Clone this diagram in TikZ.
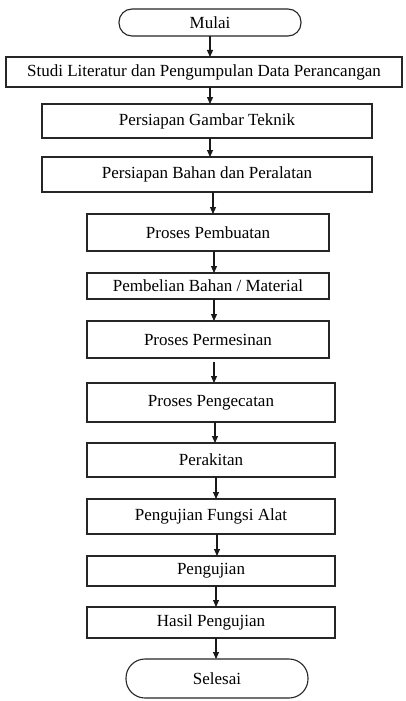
\documentclass[tikz,border=0pt]{standalone}
\usepackage{fontspec}
\setmainfont{Liberation Serif}
\usetikzlibrary{arrows.meta}
\begin{document}
\begin{tikzpicture}[x=1pt,y=-1pt,
  box/.style={draw=black!85, line width=1.1pt, inner sep=0pt, outer sep=0pt,
    font=\fontsize{17}{20}\selectfont, align=center},
  term/.style={box, rounded corners=#1},
  arr/.style={draw=black!90, line width=1.1pt, -{Triangle[length=7pt,width=6pt]}}]
\useasboundingbox (0,0) rectangle (405,701);
\fill[white] (0,0) rectangle (405,701);
\node[term=13pt, minimum width=182pt, minimum height=27pt] (mulai) at (210,22.5) {Mulai};
\node[box, minimum width=396pt, minimum height=30pt] (studi) at (204,72) {Studi Literatur dan Pengumpulan Data Perancangan};
\node[box, minimum width=330pt, minimum height=34pt] (gambar) at (207,121) {Persiapan Gambar Teknik};
\node[box, minimum width=330pt, minimum height=35pt] (bahan) at (207,174.5) {Persiapan Bahan dan Peralatan};
\node[box, minimum width=242pt, minimum height=37pt] (pembuatan) at (208,232.5) {Proses Pembuatan};
\node[box, minimum width=242pt, minimum height=26pt] (pembelian) at (208,286) {Pembelian Bahan / Material};
\node[box, minimum width=242pt, minimum height=37pt] (permesinan) at (208,339.5) {Proses Permesinan};
\node[box, minimum width=248pt, minimum height=39pt] (pengecatan) at (211,402.5) {Proses Pengecatan};
\node[box, minimum width=248pt, minimum height=34pt] (perakitan) at (211,460) {Perakitan};
\node[box, minimum width=248pt, minimum height=35pt] (fungsi) at (211,516.5) {Pengujian Fungsi Alat};
\node[box, minimum width=248pt, minimum height=30pt] (pengujian) at (211,571) {Pengujian};
\node[box, minimum width=248pt, minimum height=31pt] (hasil) at (211,622.5) {Hasil Pengujian};
\node[term=19pt, minimum width=182pt, minimum height=39pt] (selesai) at (217,678.5) {Selesai};
\coordinate (xa) at (210,0);
\coordinate (xb) at (213,0);
\coordinate (xc) at (214,0);
\coordinate (xd) at (215,0);
\coordinate (xe) at (216,0);
\coordinate (xf) at (217,0);
\draw[arr] (mulai.south -| xa) -- (studi.north -| xa);
\draw[arr] (studi.south -| xa) -- (gambar.north -| xa);
\draw[arr] (gambar.south -| xa) -- (bahan.north -| xa);
\draw[arr] (bahan.south -| xb) -- (pembuatan.north -| xb);
\draw[arr] (pembuatan.south -| xc) -- (pembelian.north -| xc);
\draw[arr] (pembelian.south -| xc) -- (permesinan.north -| xc);
\draw[arr, shorten <=4pt] (permesinan.south -| xc) -- (pengecatan.north -| xc);
\draw[arr] (pengecatan.south -| xd) -- (perakitan.north -| xd);
\draw[arr] (perakitan.south -| xe) -- (fungsi.north -| xe);
\draw[arr] (fungsi.south -| xf) -- (pengujian.north -| xf);
\draw[arr] (pengujian.south -| xe) -- (hasil.north -| xe);
\draw[arr] (hasil.south -| xe) -- (selesai.north -| xe);
\end{tikzpicture}
\end{document}
